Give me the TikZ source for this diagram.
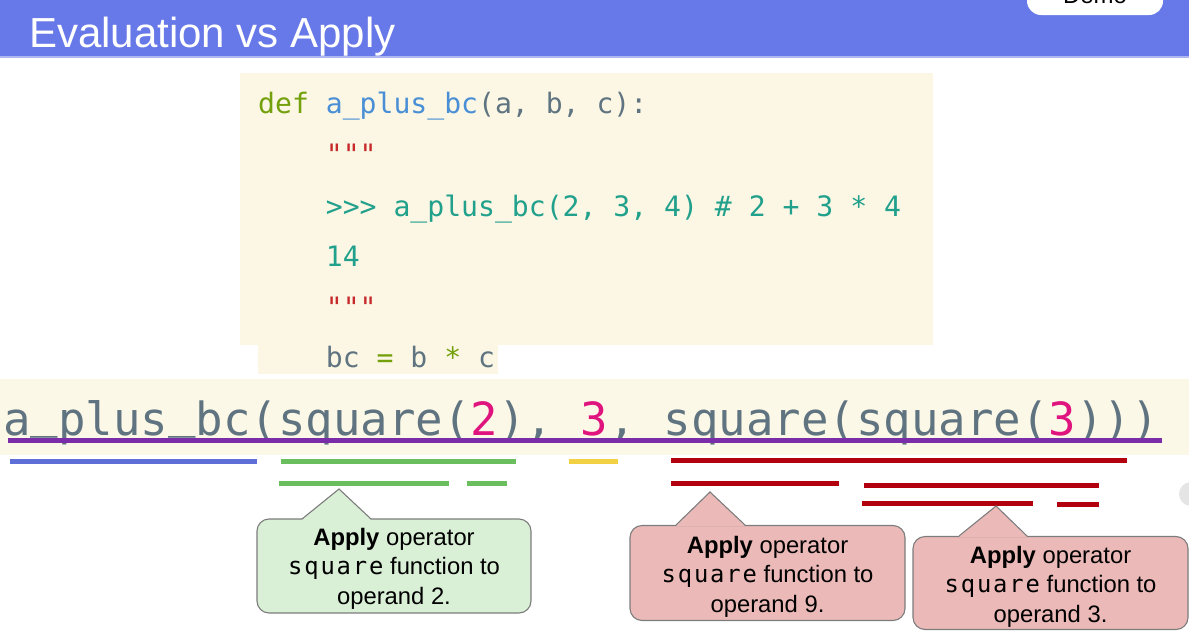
\documentclass[tikz,border=0pt]{standalone}
\usepackage{fontspec}
\setmainfont{Liberation Sans}
\newfontfamily\codefont{DejaVu Sans Mono}
\newfontfamily\boxmono[LetterSpace=8]{DejaVu Sans Mono}
% underscore lifted to sit just above the underline of the big expression
\newcommand\hiscore{\raisebox{0.16em}{\_}}

\definecolor{hdr}{HTML}{6778E8}
\definecolor{hdrline}{HTML}{AEB7F0}
\definecolor{codebg}{HTML}{FBF7E4}
\definecolor{bandbg}{HTML}{FCF8E7}
\definecolor{kw}{HTML}{74A00C}
\definecolor{fn}{HTML}{4A8FD6}
\definecolor{tx}{HTML}{5F7480}
\definecolor{strc}{HTML}{C8292B}
\definecolor{doc}{HTML}{21A08C}
\definecolor{mag}{HTML}{E0147E}
\definecolor{purp}{HTML}{7B2CA8}
\definecolor{bluebar}{HTML}{5F6FD8}
\definecolor{greenbar}{HTML}{6BBE5E}
\definecolor{yellowbar}{HTML}{F2D043}
\definecolor{redbar}{HTML}{B3000F}
\definecolor{gfill}{HTML}{D9EFD6}
\definecolor{rfill}{HTML}{EBB9B7}
\definecolor{edge}{HTML}{7C7C7C}

\begin{document}
\begin{tikzpicture}[x=1pt,y=-1pt,
  codeline/.style={anchor=base west, inner sep=0pt, text=tx,
    font=\codefont\fontsize{28.1}{34}\selectfont},
  bar/.style={line width=5pt},
  callbox/.style={draw=edge, line width=1.1pt, rounded corners=12pt,
    inner sep=0pt},
  calltext/.style={align=center, inner sep=0pt, text=black,
    font=\fontsize{23.8}{29.5}\selectfont},
  pointerside/.style={draw=edge, line width=1.1pt, line join=miter}]

\useasboundingbox (0,0) rectangle (1189,640);
\clip (0,0) rectangle (1189,640);

% title bar
\fill[hdr] (0,0) rectangle (1189,56.5);
\draw[hdrline, line width=1.5pt] (0,57.2) -- (1189,57.2);
\node[anchor=base west, inner sep=0pt, text=white,
  font=\fontsize{42}{50}\selectfont] (title) at (29,47) {Evaluation vs Apply};

% demo button, mostly above the page
\node[fill=white, rounded corners=14pt, minimum width=136pt,
  minimum height=50pt, inner sep=0pt] (demo) at (1095,-10) {};
\node[anchor=base, inner sep=0pt, text=black,
  font=\fontsize{24}{28}\selectfont] (demotext) at (1095,3) {Demo};

% source code of the function
\fill[codebg] (240,73) rectangle (933,345);
\fill[codebg] (258,345) rectangle (498,374);
\node[codeline] (l1) at (258,113)
  {{\color{kw}def} {\color{fn}a\_plus\_bc}(a, b, c):};
\node[codeline, text=strc] (l2) at (325.7,164) {"""};
\node[codeline, text=doc] (l3) at (325.7,216)
  {>>> a\_plus\_bc(2, 3, 4) \# 2 + 3 * 4};
\node[codeline, text=doc] (l4) at (325.7,266) {14};
\node[codeline, text=strc] (l5) at (325.7,317) {"""};
\node[codeline] (l6) at (325.7,367)
  {bc {\color{kw}=} b {\color{kw}*} c};

% the call expression
\fill[bandbg] (0,379) rectangle (1189,455);
\node[anchor=base west, inner sep=0pt, text=tx,
  font=\codefont\fontsize{45.7}{50}\selectfont] (expr) at (3,435)
  {a\hiscore plus\hiscore bc(square({\color{mag}2}), {\color{mag}3}, square(square({\color{mag}3})))};
\draw[purp, line width=5pt] (8,440.5) -- (1162,440.5);

% sub-expression markers
\draw[bar, bluebar]   (10,461.5)  -- (257,461.5);
\draw[bar, greenbar]  (281,461.5) -- (516,461.5);
\draw[bar, greenbar]  (279,483.5) -- (449,483.5);
\draw[bar, greenbar]  (467,483.5) -- (507,483.5);
\draw[bar, yellowbar] (569,461.5) -- (618,461.5);
\draw[bar, redbar]    (671,460)   -- (1127,460);
\draw[bar, redbar]    (671,483.5) -- (839,483.5);
\draw[bar, redbar]    (864,485)   -- (1099,485);
\draw[bar, redbar]    (862,503.5) -- (1033,503.5);
\draw[bar, redbar]    (1057,504.5) -- (1099,504.5);

% callout: square(2)
\node[callbox, fill=gfill, minimum width=274pt, minimum height=94pt]
  (cA) at (394,566) {};
\coordinate (pA) at (339,489);
\fill[gfill] (302,519.8) -- (pA) -- (371,519.8) -- cycle;
\draw[pointerside] (302,519) -- (pA) -- (371,519);
\node[calltext] (tA) at (394,568.5)
  {\textbf{Apply} operator\\{\boxmono square} function to\\operand 2.};

% callout: square(9)
\node[callbox, fill=rfill, minimum width=275pt, minimum height=95pt]
  (cB) at (767.5,573) {};
\coordinate (pB) at (710,492);
\fill[rfill] (676,525.8) -- (pB) -- (745,525.8) -- cycle;
\draw[pointerside] (676,525) -- (pB) -- (745,525);
\node[calltext] (tB) at (767.5,576.5)
  {\textbf{Apply} operator\\{\boxmono square} function to\\operand 9.};

% callout: square(3)
\node[callbox, fill=rfill, minimum width=275pt, minimum height=93pt]
  (cC) at (1050.5,583) {};
\coordinate (pC) at (996,506);
\fill[rfill] (959,536.8) -- (pC) -- (1027,536.8) -- cycle;
\draw[pointerside] (959,536) -- (pC) -- (1027,536);
\node[calltext] (tC) at (1050.5,586.5)
  {\textbf{Apply} operator\\{\boxmono square} function to\\operand 3.};

% edge of a round control
\fill[black!10] (1191,494) circle (12);
\end{tikzpicture}
\end{document}
